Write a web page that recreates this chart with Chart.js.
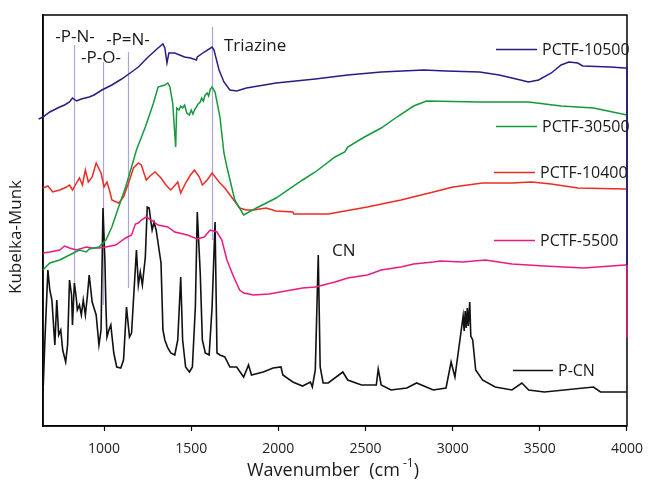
<!DOCTYPE html>
<html><head><meta charset="utf-8">
<script src="https://cdn.jsdelivr.net/npm/chart.js@4/dist/chart.umd.min.js"></script>
<style>html,body{margin:0;padding:0;background:#fff}</style>
</head><body>
<canvas id="c" width="653" height="480"></canvas>
<script>
// ---------- data ----------
const xTicks = [1000, 1500, 2000, 2500, 3000, 3500, 4000];
const seriesNames = ['PCTF-10500', 'PCTF-30500', 'PCTF-10400', 'PCTF-5500', 'P-CN'];

const p10500_x = [625,650,689,746,774,802,819,842,870,915,943,988,1045,1101,1158,1197,1253,1310,1338,1349,1361,1372,1406,1462,1496,1530,1535,1575,1620,1631,1660,1688,1722,1761,1817,1987,2212,2398,2590,2833,2962,3154,3267,3340,3436,3493,3566,3622,3667,3718,3746,3904,3989,4000,4000];
const p10500_y = [307,309,314,319,321,324,328,325,327,329,331,336,341,347,354,359,369,378,382,378,363,373,373,369,368,366,369,374,379,376,356,344,336,335,338,343,347,351,354,356,355,354,351,348,344,346,353,361,364,363,360,359,358,358,161];

const p30500_x = [650,689,746,802,859,898,915,971,1011,1045,1084,1124,1158,1186,1237,1282,1310,1349,1366,1378,1394,1411,1417,1430,1440,1451,1462,1475,1490,1500,1510,1519,1530,1540,1552,1560,1570,1580,1592,1600,1610,1620,1637,1665,1688,1705,1750,1801,1874,1987,2139,2212,2325,2381,2398,2494,2590,2680,2776,2850,3154,3436,3622,3808,4000];
const p30500_y = [156,163,166,171,176,174,177,179,186,199,219,239,259,276,299,322,339,341,343,339,323,279,318,316,320,318,321,313,311,316,312,316,319,322,324,328,325,331,333,330,337,339,334,309,273,259,226,211,218,228,246,254,269,274,279,289,298,309,320,325,324,324,320,318,311];

const p10400_x = [650,678,706,746,785,802,819,842,859,876,893,910,932,955,983,1000,1017,1034,1045,1084,1112,1141,1169,1197,1214,1242,1270,1293,1327,1355,1383,1423,1440,1468,1496,1519,1547,1564,1592,1620,1660,1693,1744,1778,1817,1857,1930,1987,2083,2088,2286,2511,2703,2889,3002,3171,3340,3453,3566,3718,3989,4000];
const p10400_y = [238,240,234,236,239,241,236,243,248,241,256,244,249,263,253,239,244,234,226,223,229,243,258,263,261,246,251,254,248,241,236,244,233,243,251,256,249,241,246,253,244,238,226,218,216,216,218,215,214,212,212,219,226,234,239,243,243,244,242,238,237,237];

const p5500_x = [650,689,746,774,802,842,898,932,971,1011,1067,1124,1158,1180,1197,1214,1242,1270,1310,1366,1406,1479,1535,1575,1609,1648,1676,1705,1744,1778,1801,1857,1947,2139,2212,2325,2398,2511,2590,2703,2776,2889,2929,3058,3188,3340,3526,3752,3989,4000,4000];
const p5500_y = [173,174,176,180,178,176,179,178,178,179,181,188,191,202,203,206,209,206,201,199,194,191,187,189,196,194,186,166,149,136,133,131,132,138,139,144,148,151,156,159,162,164,165,164,166,162,160,158,161,161,88];

const pcn_x = [650,661,678,689,701,718,729,740,752,763,780,791,802,814,819,830,842,847,859,870,881,893,904,915,932,955,971,983,994,1005,1011,1017,1028,1039,1056,1073,1096,1112,1129,1146,1158,1169,1186,1197,1208,1220,1237,1248,1259,1270,1276,1287,1299,1316,1327,1338,1349,1366,1383,1406,1423,1440,1451,1468,1490,1507,1524,1535,1552,1564,1581,1603,1620,1637,1648,1665,1693,1722,1761,1801,1829,1846,1913,1970,2015,2026,2083,2139,2184,2195,2212,2229,2240,2257,2286,2370,2398,2477,2562,2573,2590,2646,2737,2793,2889,2962,2991,3013,3047,3060,3066,3072,3078,3084,3090,3098,3104,3115,3132,3171,3244,3340,3397,3436,3526,3808,3848,3989,4000];
const pcn_y = [33,86,156,136,126,81,126,91,96,76,64,81,146,131,101,143,126,116,121,111,126,111,129,151,124,111,81,96,218,166,119,89,96,101,73,59,58,66,119,89,93,126,176,141,154,141,169,219,218,203,196,204,196,176,163,96,86,78,73,71,86,149,86,59,54,59,119,214,153,86,73,71,119,204,73,71,69,59,59,49,61,51,54,58,59,51,44,40,44,39,56,171,59,43,43,54,46,41,41,57,41,36,38,43,36,38,64,49,93,110,95,115,98,118,100,124,90,86,56,46,39,36,43,36,34,39,34,34,34];

const refLabels = ['-P-N-', '-P-O-', '-P=N-', 'Triazine'];
const refX = [830, 995, 1135, 1620];
const refTop = [381, 364, 374, 399];
const refBot = [143, 121, 138, 186];

const colors = ['#2c1b84', '#14993c', '#ee2b23', '#ec1a7e', '#111111'];

// ---------- build ----------
function pts(xs, ys) { return xs.map((v, i) => ({x: v, y: ys[i]})); }
const allX = [p10500_x, p30500_x, p10400_x, p5500_x, pcn_x];
const allY = [p10500_y, p30500_y, p10400_y, p5500_y, pcn_y];
const datasets = seriesNames.map((n, i) => ({
  label: n, data: pts(allX[i], allY[i]), borderColor: colors[i],
  borderWidth: i === 4 ? 1.6 : 1.5, pointRadius: 0, tension: 0, fill: false,
  clip: i === 0 ? false : 3
}));

const FONT = '"Open Sans", "DejaVu Sans", sans-serif';

const deco = {
  id: 'deco',
  beforeDatasetsDraw(ch) {
    const {ctx, chartArea: a, scales: {x, y}} = ch;
    ctx.save();
    ctx.strokeStyle = '#aaa6d8'; ctx.lineWidth = 1.2;
    refX.forEach((v, i) => {
      const px = Math.round(x.getPixelForValue(v)) + 0.5;
      ctx.beginPath();
      ctx.moveTo(px, y.getPixelForValue(refTop[i]));
      ctx.lineTo(px, y.getPixelForValue(refBot[i]));
      ctx.stroke();
    });
    ctx.strokeStyle = '#000'; ctx.lineWidth = 1.5;
    ctx.strokeRect(a.left, a.top, a.right - a.left, a.bottom - a.top);
    ctx.restore();
  },
  afterDraw(ch) {
    const {ctx} = ch;
    ctx.save();
    ctx.fillStyle = '#1a1a1a';
    ctx.textBaseline = 'middle';
    // reference annotations
    ctx.font = '17px ' + FONT;
    ctx.textAlign = 'center';
    ctx.fillText(refLabels[0], 75, 37);
    ctx.fillText(refLabels[1], 101, 58);
    ctx.fillText(refLabels[2], 128, 40);
    ctx.textAlign = 'left';
    ctx.fillText(refLabels[3], 224, 46);
    ctx.fillText('CN', 332, 251);
    // legend entries
    const leg = [[496, 537, 49, 542], [496, 537, 126, 542], [494, 535, 172, 540], [494, 535, 240, 540], [513, 553, 370, 558]];
    ctx.font = '16px ' + FONT;
    leg.forEach((l, i) => {
      ctx.strokeStyle = colors[i]; ctx.lineWidth = 1.6;
      ctx.beginPath(); ctx.moveTo(l[0], l[2] + 0.5); ctx.lineTo(l[1], l[2] + 0.5); ctx.stroke();
      ctx.fillText(seriesNames[i], l[3], l[2] + 1);
    });
    // axis titles
    ctx.font = '18px ' + FONT;
    ctx.textAlign = 'left';
    const t1 = 'Wavenumber  (cm';
    const w1 = ctx.measureText(t1).width;
    ctx.font = '12px ' + FONT;
    const ws = ctx.measureText(' -1').width;
    ctx.font = '18px ' + FONT;
    const w3 = ctx.measureText(')').width;
    const start = 333 - (w1 + ws + w3) / 2;
    ctx.fillText(t1, start, 471);
    ctx.font = '12px ' + FONT;
    ctx.fillText(' -1', start + w1, 464);
    ctx.font = '18px ' + FONT;
    ctx.fillText(')', start + w1 + ws, 471);
    ctx.translate(16, 237);
    ctx.rotate(-Math.PI / 2);
    ctx.textAlign = 'center';
    ctx.font = '17px ' + FONT;
    ctx.fillText('Kubelka-Munk', 0, 0);
    ctx.restore();
  }
};

new Chart(document.getElementById('c'), {
  type: 'line',
  data: {datasets},
  options: {
    responsive: false, animation: false, devicePixelRatio: 1,
    layout: {padding: {top: 15, right: 16, left: 0, bottom: 0}},
    plugins: {legend: {display: false}, tooltip: {enabled: false}},
    scales: {
      x: {
        type: 'linear', min: 650, max: 4000,
        afterBuildTicks(s) { s.ticks = xTicks.map(v => ({value: v})); },
        afterFit(s) { s.height = 54; },
        grid: {drawOnChartArea: false, tickLength: 5, color: '#000', tickWidth: 1.2},
        border: {display: true, color: '#000', width: 1.5},
        ticks: {color: '#222', font: {size: 14, family: FONT}, padding: 10, maxRotation: 0, autoSkip: false,
                callback: v => String(v)}
      },
      y: {
        type: 'linear', min: 0, max: 411,
        afterFit(s) { s.width = 43; },
        grid: {display: false},
        border: {display: true, color: '#000', width: 1.5},
        ticks: {display: false}
      }
    }
  },
  plugins: [deco]
});
</script>
</body></html>
